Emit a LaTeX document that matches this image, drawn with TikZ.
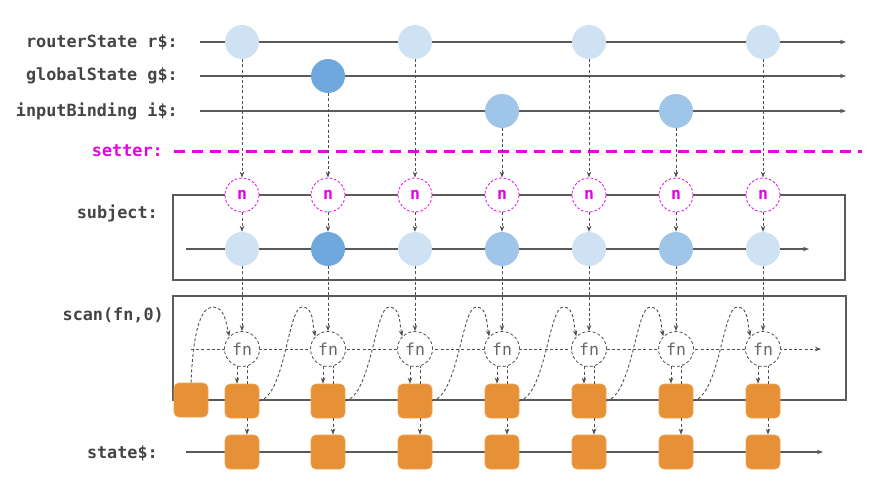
\documentclass[tikz,border=0pt]{standalone}
\usepackage{fontspec}
\setmonofont{DejaVu Sans Mono}
\usetikzlibrary{arrows.meta,calc}
\definecolor{labelgray}{HTML}{444444}
\definecolor{linegray}{HTML}{5A5A5A}
\definecolor{dashgray}{HTML}{505050}
\definecolor{fngray}{HTML}{666666}
\definecolor{mag}{HTML}{E800E8}
\definecolor{cl}{HTML}{CFE2F3}
\definecolor{cm}{HTML}{9FC5E8}
\definecolor{cd}{HTML}{6FA8DC}
\definecolor{org}{HTML}{E69138}
\definecolor{orgb}{HTML}{F0A24E}
\tikzset{
  lbl/.style={anchor=east, inner sep=0pt, text=labelgray, font=\ttfamily\bfseries\fontsize{16.8}{17}\selectfont},
  tline/.style={draw=linegray, line width=1.1pt},
  arr/.style={-{Stealth[length=6pt,width=4.5pt]}},
  dsh/.style={draw=dashgray, line width=0.9pt, dash pattern=on 3pt off 2.2pt},
  ev/.style={circle, minimum size=34pt, inner sep=0pt},
  nn/.style={circle, minimum size=34pt, inner sep=0pt, draw=mag, fill=white, line width=0.8pt, dash pattern=on 2.5pt off 2pt, text=mag, font=\ttfamily\bfseries\fontsize{16.5}{16.5}\selectfont},
  fnn/.style={circle, minimum size=35pt, inner sep=0pt, draw=dashgray, fill=white, line width=0.8pt, dash pattern=on 3pt off 2.2pt, text=fngray, font=\ttfamily\fontsize{16.5}{16.5}\selectfont},
  sqr/.style={rectangle, rounded corners=5pt, minimum size=34pt, inner sep=0pt, fill=org, draw=orgb, line width=0.6pt},
  boxl/.style={draw=linegray, line width=1.1pt},
}
\begin{document}
\begin{tikzpicture}[x=1pt,y=-1pt]
\useasboundingbox (0,0) rectangle (880,495);
% labels
\node[lbl] (lr) at (178,42) {routerState r\$:};
\node[lbl] (lg) at (178,76) {globalState g\$:};
\node[lbl] (li) at (178,111) {inputBinding i\$:};
\node[lbl, text=mag] (ls) at (163,151) {setter:};
\node[lbl] (lsub) at (158,213) {subject:};
\node[lbl] (lscan) at (164,315) {scan(fn,0)};
\node[lbl] (lst) at (158,453) {state\$:};
% timeline coordinates
\coordinate (ra) at (200,42);  \coordinate (rb) at (846,42);
\coordinate (ga) at (200,76);  \coordinate (gb) at (846,76);
\coordinate (ia) at (200,111); \coordinate (ib) at (846,111);
\coordinate (sa) at (174,151); \coordinate (sb) at (862,151);
\coordinate (subA) at (186,249); \coordinate (subB) at (809,249);
\coordinate (stA) at (186,452); \coordinate (stB) at (823,452);
\coordinate (hA) at (191,349); \coordinate (hB) at (821,349);
\coordinate (b1a) at (173,195); \coordinate (b1b) at (845,280);
\coordinate (b2a) at (173,296); \coordinate (b2b) at (846,400);
\draw[tline,arr] (ra) -- (rb);
\draw[tline,arr] (ga) -- (gb);
\draw[tline,arr] (ia) -- (ib);
\draw[draw=mag, line width=3pt, dash pattern=on 11pt off 7pt] (sa) -- (sb);
\draw[boxl] (b1a) rectangle (b1b);
\draw[boxl] (b2a) rectangle (b2b);
\draw[tline,arr] (subA) -- (subB);
\draw[tline,arr] (stA) -- (stB);
\draw[dsh,arr] (hA) -- (hB);
% initial seed square
\node[sqr] (qinit) at (191,400) {};
% columns
\foreach \i/\x/\y/\c in {0/242/42/cl,1/328/76/cd,2/415/42/cl,3/502/111/cm,4/589/42/cl,5/676/111/cm,6/763/42/cl}{
  \node[ev, fill=\c] (src\i) at (\x,\y) {};
  \node[nn] (n\i) at (\x,195) {n};
  \node[ev, fill=\c] (s\i) at (\x,249) {};
  \node[fnn] (fn\i) at (\x,349) {fn};
  \node[sqr] (q\i) at (\x,401) {};
  \node[sqr] (st\i) at (\x,452) {};
  \coordinate (pk\i) at ($(fn\i.center)+(-26,-42)$);
  \draw[dsh,arr] (src\i) -- (n\i);
  \draw[dsh,arr] (n\i) -- (s\i);
  \draw[dsh,arr] (s\i) -- (fn\i);
  \draw[dsh,arr] ($(fn\i.south)+(-5,-0.5)$) -- ($(q\i.north)+(-5,0)$);
  \draw[dsh] ($(q\i.north)+(5,0)$) -- ($(fn\i.south)+(5,-0.5)$);
  \draw[dsh,arr] ($(q\i.south)+(5,0)$) -- ($(st\i.north)+(5,0)$);
}
% accumulator curves
\draw[dsh,arr] (qinit.north) .. controls +(2,-45) and +(-14,0) .. ($(fn0.center)+(-29,-42)$) .. controls +(12,0) and +(-3,-12) .. (fn0.north west);
\foreach \i [count=\j from 0] in {1,...,6}{
  \draw[dsh,arr] (q\j.east) .. controls +(26,-6) and +(-14,0) .. (pk\i) .. controls +(12,0) and +(-3,-12) .. (fn\i.north west);
}
\end{tikzpicture}
\end{document}
